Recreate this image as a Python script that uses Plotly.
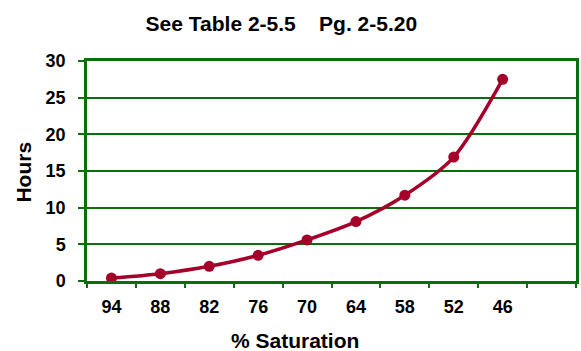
import plotly.graph_objects as go

categories = ["94", "88", "82", "76", "70", "64", "58", "52", "46"]
hours = [0.4, 1.0, 2.0, 3.5, 5.6, 8.1, 11.7, 16.9, 27.5]
y_ticks = [0, 5, 10, 15, 20, 25, 30]
n_slots = 10  # last category slot is empty

GREEN = "#0A6E0A"
RED = "#A5002A"
FONT = "Liberation Sans, Arial, sans-serif"

x_pos = list(range(len(categories)))

fig = go.Figure()
fig.add_trace(go.Scatter(
    x=x_pos, y=hours, mode="lines+markers",
    line=dict(color=RED, width=3.5, shape="spline", smoothing=0.8),
    marker=dict(color=RED, size=11, symbol="circle"),
    showlegend=False, hoverinfo="skip",
))
# invisible trace to activate the overlay axis used for boundary tick marks
fig.add_trace(go.Scatter(x=[-0.5], y=[0], xaxis="x2", mode="markers",
                         marker=dict(opacity=0), showlegend=False, hoverinfo="skip"))

fig.update_layout(
    width=581, height=351,
    margin=dict(l=87, r=2, t=61, b=70),
    paper_bgcolor="white", plot_bgcolor="white",
    font=dict(family=FONT, color="black"),
    title=dict(text="<b>See Table 2-5.5    Pg. 2-5.20</b>", x=0.4843, xanchor="center",
               y=1 - 24 / 351, yanchor="middle", yref="container",
               font=dict(size=21, family=FONT, color="black")),
    xaxis=dict(range=[-0.5, n_slots - 0.5], tickvals=x_pos, ticktext=categories,
               ticks="", showgrid=False, zeroline=False,
               showline=True, linecolor=GREEN, linewidth=2.5, mirror=True,
               tickfont=dict(size=18, family=FONT, weight=700, color="black"),
               ticklabelstandoff=8),
    xaxis2=dict(overlaying="x", matches="x", side="bottom",
                tickvals=[i - 0.5 for i in range(n_slots + 1)], ticks="outside",
                ticklen=6, tickwidth=2, tickcolor=GREEN, showticklabels=False,
                showgrid=False, zeroline=False, showline=False),
    yaxis=dict(range=[0, 30], tickvals=y_ticks, ticks="outside", ticklen=6,
               tickwidth=2, tickcolor=GREEN, showgrid=True, gridcolor=GREEN,
               gridwidth=2, zeroline=False, showline=True, linecolor=GREEN,
               linewidth=2.5, mirror=True,
               tickfont=dict(size=18, family=FONT, weight=700, color="black"),
               ticklabelstandoff=9),
    annotations=[
        dict(text="<b>% Saturation</b>", xref="paper", yref="paper",
             x=(296 - 87) / 492, y=(281 - 340) / 220, xanchor="center", yanchor="middle",
             showarrow=False, font=dict(size=21, family=FONT, color="black")),
        dict(text="<b>Hours</b>", xref="paper", yref="paper", textangle=-90,
             x=(23.5 - 87) / 492, y=(281 - 171.7) / 220, xanchor="center", yanchor="middle",
             showarrow=False, font=dict(size=21, family=FONT, color="black")),
    ],
)

fig.write_html("out.html", config={"displayModeBar": False},
               post_script="document.body.style.margin='0';document.body.style.padding='0';")
